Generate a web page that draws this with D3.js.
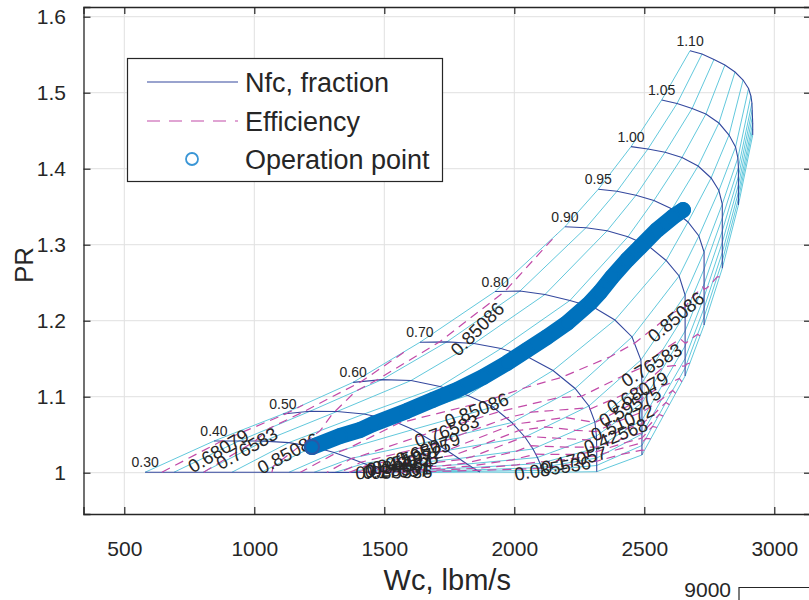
<!DOCTYPE html>
<html><head><meta charset="utf-8">
<script src="https://cdn.jsdelivr.net/npm/d3@7"></script>
<style>
body{margin:0;background:#fff}
svg{display:block}
text{font-family:"Liberation Sans",Arial,Helvetica,sans-serif;fill:#262626}
</style></head>
<body><svg id="c" width="809" height="600"></svg>
<script>
// ---------------- data ----------------
const speeds = ["0.30","0.40","0.50","0.60","0.70","0.80","0.90","0.95","1.00","1.05","1.10"];
// corrected flow on each speed line at the R-line points (surge -> choke)
const wcGrid = [
 [580,691,803,914,1026,1133,1230,1310,1372,1418,1453,1480,1501,1514],
 [845,941,1037,1133,1226,1307,1372,1422,1457,1484,1503,1516,1526,1534],
 [1110,1214,1318,1422,1522,1610,1684,1741,1787,1818,1839,1853,1862,1868],
 [1380,1491,1603,1714,1822,1918,1991,2041,2072,2089,2099,2104,2107,2109],
 [1637,1741,1845,1949,2049,2149,2234,2287,2310,2316,2317,2317,2317,2317],
 [1926,2022,2118,2214,2307,2387,2453,2487,2491,2491,2491,2491,2491,2491],
 [2195,2276,2357,2437,2514,2584,2634,2657,2657,2657,2657,2657,2657,2657],
 [2323,2395,2468,2537,2607,2668,2710,2730,2730,2730,2730,2730,2730,2730],
 [2449,2514,2580,2645,2707,2757,2787,2800,2800,2800,2800,2800,2800,2800],
 [2567,2626,2684,2737,2787,2826,2851,2860,2862,2862,2862,2862,2862,2862],
 [2676,2722,2768,2810,2849,2880,2901,2910,2914,2915,2916,2917,2917,2917]
];
// pressure ratio on each speed line at the R-line points
const prGrid = [
 [1.0006,1.0006,1.0006,1.0006,1.0005,1.0005,1.0005,1.0004,1.0004,1.0003,1.0003,1.0002,1.0001,1.0000],
 [1.0417,1.0417,1.0416,1.0396,1.0341,1.0266,1.0188,1.0121,1.0072,1.0036,1.0018,1.0009,1.0003,1.0000],
 [1.0772,1.0808,1.0805,1.0772,1.0700,1.0568,1.0417,1.0292,1.0187,1.0114,1.0068,1.0038,1.0020,1.0009],
 [1.1189,1.1225,1.1213,1.1134,1.1016,1.0864,1.0660,1.0470,1.0312,1.0200,1.0121,1.0068,1.0032,1.0003],
 [1.1716,1.1722,1.1700,1.1634,1.1529,1.1345,1.1108,1.0878,1.0667,1.0483,1.0325,1.0193,1.0095,1.0013],
 [1.2384,1.2391,1.2345,1.2266,1.2174,1.2009,1.1786,1.1483,1.1180,1.0917,1.0693,1.0509,1.0358,1.0233],
 [1.3237,1.3224,1.3183,1.3104,1.2989,1.2792,1.2588,1.2338,1.2088,1.1864,1.1667,1.1503,1.1378,1.1272],
 [1.3729,1.3703,1.3650,1.3582,1.3470,1.3299,1.3114,1.2904,1.2680,1.2483,1.2312,1.2167,1.2049,1.1943],
 [1.4290,1.4259,1.4216,1.4147,1.4035,1.3878,1.3713,1.3535,1.3351,1.3180,1.3029,1.2897,1.2785,1.2689],
 [1.4904,1.4858,1.4792,1.4720,1.4601,1.4443,1.4285,1.4141,1.4016,1.3897,1.3786,1.3687,1.3601,1.3522],
 [1.5553,1.5509,1.5437,1.5364,1.5272,1.5167,1.5055,1.4957,1.4864,1.4772,1.4687,1.4601,1.4522,1.4443]
];
// adiabatic efficiency at the same grid points
const effGrid = [
 [0.64,0.71,0.765,0.80,0.845,0.86,0.84,0.72,0.58,0.44,0.31,0.20,0.10,0.0],
 [0.655,0.74,0.78,0.83,0.87,0.86,0.77,0.65,0.52,0.40,0.28,0.18,0.09,0.0],
 [0.665,0.80,0.855,0.88,0.875,0.81,0.72,0.595,0.45,0.32,0.21,0.11,0.05,0.0],
 [0.72,0.88,0.895,0.90,0.88,0.83,0.62,0.42,0.31,0.22,0.15,0.10,0.05,0.0],
 [0.775,0.88,0.89,0.895,0.90,0.87,0.82,0.70,0.60,0.47,0.33,0.12,0.04,0.0],
 [0.835,0.875,0.885,0.89,0.90,0.90,0.87,0.80,0.70,0.57,0.46,0.33,0.12,0.05],
 [0.853,0.875,0.885,0.895,0.90,0.905,0.90,0.87,0.84,0.79,0.76,0.72,0.67,0.64],
 [0.87,0.88,0.89,0.90,0.905,0.91,0.905,0.89,0.87,0.855,0.845,0.83,0.815,0.80],
 [0.875,0.885,0.895,0.90,0.905,0.91,0.91,0.90,0.89,0.885,0.88,0.875,0.865,0.86],
 [0.875,0.885,0.89,0.895,0.90,0.905,0.905,0.90,0.895,0.89,0.885,0.88,0.875,0.875],
 [0.87,0.88,0.885,0.89,0.895,0.90,0.90,0.895,0.89,0.885,0.88,0.875,0.872,0.87]
];
const effLevels = [0.085536,0.17057,0.25561,0.34064,0.42568,0.51072,0.59575,0.68079,0.76583,0.85086];
// contour labels: text, Wc, PR, angle
const effLabels = [
 ["0.85086",1858,1.1891,-45],["0.85086",2622,1.2049,-40],["0.85086",1855,1.0825,-21],["0.85086",1131,1.0255,-28],
 ["0.76583",2528,1.1417,-31],["0.76583",1740,1.0551,-19],["0.76583",971,1.0321,-29],
 ["0.68079",862,1.0288,-31],["0.68079",2474,1.1055,-29],["0.68079",1668,1.0312,-20],
 ["0.59575",2445,1.0868,-27],["0.51072",2416,1.0660,-24],["0.42568",2390,1.0485,-21.5],
 ["0.17057",2230,1.0167,-14],["0.085536",2147,1.0058,-9],
 ["0.59575",1630,1.0239,-18],["0.51072",1599,1.0180,-14],["0.42568",1580,1.0134,-10],
 ["0.34064",1560,1.0088,-6],["0.25561",1553,1.0042,-3],["0.17057",1545,1.0022,-2],["0.085536",1537,1.0009,-1]
];
// operating points
const opWc = [1222,1330,1407,1457,1587,1687,1780,1880,1972,2049,2126,2203,2291,2330,2376,2434,2484,2549,2610,2649];
const opPR = [1.0338,1.0483,1.0562,1.0641,1.0812,1.0957,1.1088,1.1259,1.1443,1.1615,1.1785,1.1970,1.2233,1.2378,1.2575,1.2799,1.2970,1.3194,1.3365,1.3457];
const xTicks = [500,1000,1500,2000,2500,3000];
const yTicks = [1,1.1,1.2,1.3,1.4,1.5,1.6];
const yTickLabels = ["1","1.1","1.2","1.3","1.4","1.5","1.6"];
const legendItems = ["Nfc, fraction","Efficiency","Operation point"];

// ---------------- chart ----------------
const C = {speed:"#34489e", rline:"#62c8dc", eff:"#c24aa8", op:"#0072bd", grid:"#e0e0e0", axis:"#262626"};
const frame = {l:83.5, r:811, t:7, b:514};
const x = d3.scaleLinear().domain([343.1, 3141.2]).range([frame.l, frame.r]);
const y = d3.scaleLinear().domain([0.94566, 1.61276]).range([frame.b, frame.t]);
const svg = d3.select("#c");

svg.append("defs").append("clipPath").attr("id","clip")
  .append("rect").attr("x",frame.l).attr("y",frame.t).attr("width",frame.r-frame.l).attr("height",frame.b-frame.t);

// grid
const g0 = svg.append("g");
g0.selectAll(".gx").data(xTicks).join("line")
  .attr("x1",d=>x(d)).attr("x2",d=>x(d)).attr("y1",frame.t).attr("y2",frame.b)
  .attr("stroke",C.grid).attr("stroke-width",1);
g0.selectAll(".gy").data(yTicks).join("line")
  .attr("y1",d=>y(d)).attr("y2",d=>y(d)).attr("x1",frame.l).attr("x2",frame.r)
  .attr("stroke",C.grid).attr("stroke-width",1);

const plot = svg.append("g").attr("clip-path","url(#clip)");
const line = d3.line().x(d=>x(d[0])).y(d=>y(d[1]));
const nS = speeds.length, nR = wcGrid[0].length;

// R-lines (cyan)
const rLines = d3.range(nR).map(r => d3.range(nS).map(s => [wcGrid[s][r], prGrid[s][r]]));
plot.selectAll(".rl").data(rLines).join("path").attr("d",line)
  .attr("fill","none").attr("stroke",C.rline).attr("stroke-width",1);

// speed lines
const sLines = d3.range(nS).map(s => wcGrid[s].map((w,r)=>[w, prGrid[s][r]]));
plot.selectAll(".sl").data(sLines).join("path").attr("d",line)
  .attr("fill","none").attr("stroke",C.speed).attr("stroke-width",1.1);

// efficiency contours via d3.contours on the (speed, R) grid
const vals = [];
for (let s=0;s<nS;s++) for (let r=0;r<nR;r++) vals.push(effGrid[s][r]);
const cont = d3.contours().size([nR,nS]).thresholds(effLevels)(vals);
function gridPt(p){
  const r = p[0]-0.5, s = p[1]-0.5;
  const r0 = Math.max(0,Math.min(nR-2,Math.floor(r))), s0 = Math.max(0,Math.min(nS-2,Math.floor(s)));
  const fr = r-r0, fs = s-s0;
  const L = g => (1-fs)*((1-fr)*g[s0][r0]+fr*g[s0][r0+1]) + fs*((1-fr)*g[s0+1][r0]+fr*g[s0+1][r0+1]);
  return [L(wcGrid), L(prGrid)];
}
const isB = p => p[0]<0.25 || p[0]>nR-0.25 || p[1]<0.25 || p[1]>nS-0.25;
const effLines = [];
cont.forEach(c => c.coordinates.forEach(poly => poly.forEach(ring => {
  const pts = ring.slice(0,-1);
  const k = pts.findIndex(isB);
  if (k < 0) { effLines.push(ring.map(gridPt)); return; }
  const rot = pts.slice(k).concat(pts.slice(0,k));
  let cur = [];
  rot.forEach(p => { if (isB(p)) { if (cur.length>1) effLines.push(cur.map(gridPt)); cur=[]; } else cur.push(p); });
  if (cur.length>1) effLines.push(cur.map(gridPt));
})));
plot.selectAll(".el").data(effLines).join("path").attr("d",line)
  .attr("fill","none").attr("stroke",C.eff).attr("stroke-width",1.2).attr("stroke-dasharray","9,6");

// contour labels
plot.selectAll(".elab").data(effLabels).join("text")
  .attr("transform",d=>`translate(${x(d[1])},${y(d[2])}) rotate(${d[3]})`)
  .attr("text-anchor","middle").attr("dy","0.35em").attr("font-size",18.5).text(d=>d[0]);

// speed labels
plot.selectAll(".slab").data(sLines).join("text")
  .attr("x",d=>x(d[0][0])).attr("y",d=>y(d[0][1])-5)
  .attr("text-anchor","middle").attr("font-size",14).text((d,i)=>speeds[i]);

// operating line
const opPts = opWc.map((w,i)=>[w,opPR[i]]);
plot.append("path").attr("d",line(opPts)).attr("fill","none").attr("stroke",C.op)
  .attr("stroke-width",16).attr("stroke-linecap","round").attr("stroke-linejoin","round");
plot.selectAll(".op").data(opPts).join("circle")
  .attr("cx",d=>x(d[0])).attr("cy",d=>y(d[1])).attr("r",6.8)
  .attr("fill","none").attr("stroke",C.op).attr("stroke-width",2);
plot.append("circle").attr("cx",x(opPts[0][0])).attr("cy",y(opPts[0][1])).attr("r",7)
  .attr("fill",C.op).attr("stroke","#2a57a6").attr("stroke-width",2);

// axes
const ax = svg.append("g");
const axB = ax.append("g").attr("transform",`translate(0,${frame.b})`)
  .call(d3.axisBottom(x).tickValues(xTicks).tickSize(-7).tickPadding(27).tickFormat(d3.format("d")));
const axL = ax.append("g").attr("transform",`translate(${frame.l},0)`)
  .call(d3.axisLeft(y).tickValues(yTicks).tickSize(-7).tickPadding(17.5).tickFormat((d,i)=>yTickLabels[i]));
const axT = ax.append("g").attr("transform",`translate(0,${frame.t})`)
  .call(d3.axisTop(x).tickValues(xTicks).tickSize(-7).tickFormat(""));
const axR = ax.append("g").attr("transform",`translate(${frame.r},0)`)
  .call(d3.axisRight(y).tickValues(yTicks).tickSize(-7).tickFormat(""));
[axB,axL,axT,axR].forEach(g=>{
  g.select(".domain").attr("stroke",C.axis).attr("stroke-width",1.3);
  g.selectAll(".tick line").attr("stroke",C.axis).attr("stroke-width",1.2);
  g.selectAll(".tick text").attr("font-size",21).attr("fill",C.axis)
    .style("font-family",'"Liberation Sans",Arial,sans-serif');
});

// axis titles
svg.append("text").attr("x",(frame.l+frame.r)/2).attr("y",590).attr("text-anchor","middle")
  .attr("font-size",29).text("Wc, lbm/s");
svg.append("text").attr("transform",`translate(33,265) rotate(-90)`)
  .attr("text-anchor","middle").attr("font-size",26).text("PR");

// legend
const lg = svg.append("g");
lg.append("rect").attr("x",127.5).attr("y",58.5).attr("width",315).attr("height",123)
  .attr("fill","#fff").attr("stroke",C.axis).attr("stroke-width",1.2);
const rowY = [82,121,159];
lg.append("line").attr("x1",147).attr("x2",238).attr("y1",rowY[0]).attr("y2",rowY[0])
  .attr("stroke",C.speed).attr("stroke-width",1.2);
lg.append("line").attr("x1",147).attr("x2",238).attr("y1",rowY[1]).attr("y2",rowY[1])
  .attr("stroke",C.eff).attr("stroke-width",1.2).attr("stroke-dasharray","13,9");
lg.append("circle").attr("cx",192).attr("cy",rowY[2]).attr("r",6)
  .attr("fill","none").attr("stroke","#3a96d6").attr("stroke-width",1.8);
lg.selectAll(".lt").data(legendItems).join("text")
  .attr("x",245).attr("y",(d,i)=>rowY[i]+9.5).attr("font-size",27).text(d=>d);

// fragment of the neighbouring axes at the bottom right
svg.append("text").attr("x",731).attr("y",597).attr("text-anchor","end").attr("font-size",21).text("9000");
svg.append("path").attr("d","M739,600 V587.5 H809").attr("fill","none").attr("stroke",C.axis).attr("stroke-width",1.2);
</script></body></html>
